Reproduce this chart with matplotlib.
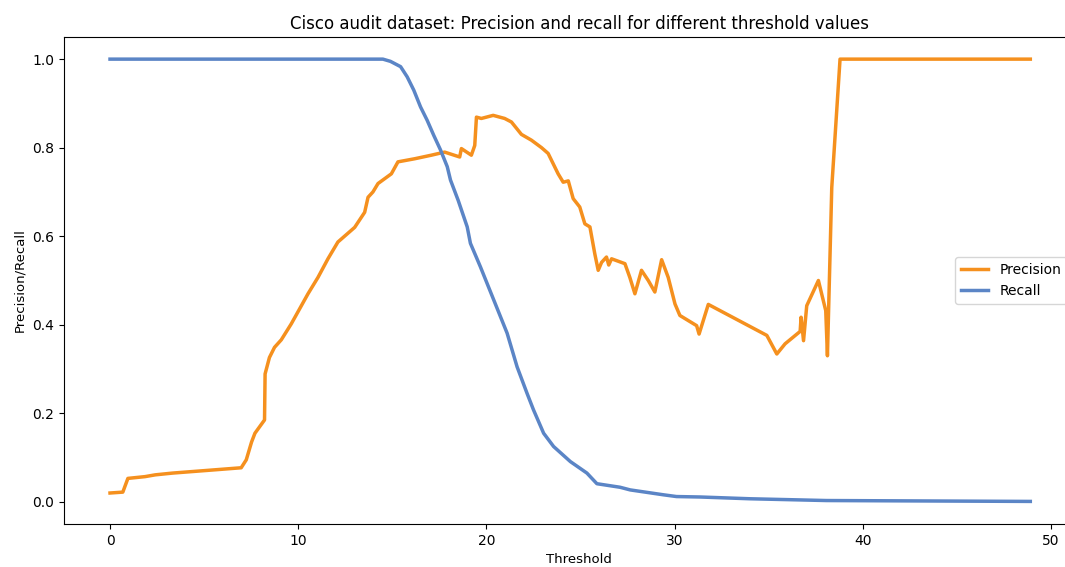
import matplotlib
matplotlib.use("Agg")
import matplotlib.pyplot as plt

# thresholds / recall
rec_x = [0, 14.5, 14.9, 15.44, 15.79, 16.14, 16.5, 16.85, 17.2, 17.56, 17.92, 18.09, 18.5,
         18.98, 19.15, 19.68, 20.39, 21.1, 21.63, 22.16, 22.5, 23.04, 23.57, 24.46, 25.34,
         25.87, 27.1, 27.64, 29.4, 30.1, 31.35, 34, 38.07, 48.9]
rec_y = [1.0, 1.0, 0.995, 0.983, 0.96, 0.93, 0.892, 0.862, 0.828, 0.795, 0.757, 0.727, 0.681,
         0.621, 0.584, 0.531, 0.456, 0.381, 0.305, 0.245, 0.208, 0.155, 0.125, 0.091, 0.065,
         0.041, 0.033, 0.027, 0.016, 0.012, 0.011, 0.007, 0.003, 0.001]

# thresholds / precision
prec_x = [0, 0.68, 0.95, 1.86, 2.4, 3.32, 5.15, 6.97, 7.24, 7.52, 7.7, 8.21, 8.24, 8.47, 8.74,
          9.1, 9.63, 10.52, 11.05, 11.58, 12.11, 13.0, 13.53, 13.71, 13.97, 14.24, 14.95, 15.3,
          16.19, 17.07, 17.78, 18.58, 18.67, 19.2, 19.38, 19.47, 19.73, 20.36, 20.97, 21.33,
          21.86, 22.39, 22.93, 23.28, 23.81, 24.08, 24.35, 24.61, 24.96, 25.23, 25.5, 25.76,
          25.94, 26.12, 26.38, 26.5, 26.65, 27.36, 27.62, 27.89, 28.24, 28.6, 28.95, 29.31,
          29.66, 30.02, 30.28, 31.17, 31.3, 31.79, 34.9, 35.43, 35.87, 36.67, 36.72, 36.85,
          37.02, 37.64, 38.03, 38.12, 38.35, 38.79, 48.9]
prec_y = [0.02, 0.022, 0.053, 0.057, 0.061, 0.065, 0.071, 0.077, 0.095, 0.135, 0.155, 0.185,
          0.289, 0.326, 0.349, 0.366, 0.402, 0.47, 0.507, 0.549, 0.587, 0.62, 0.654, 0.688,
          0.70, 0.719, 0.741, 0.768, 0.775, 0.783, 0.79, 0.779, 0.798, 0.783, 0.805, 0.869,
          0.866, 0.873, 0.866, 0.858, 0.83, 0.817, 0.80, 0.787, 0.741, 0.722, 0.725, 0.685,
          0.666, 0.628, 0.621, 0.56, 0.523, 0.541, 0.553, 0.535, 0.549, 0.538, 0.507, 0.47,
          0.523, 0.50, 0.474, 0.547, 0.507, 0.447, 0.421, 0.398, 0.379, 0.446, 0.376, 0.334,
          0.357, 0.385, 0.417, 0.364, 0.443, 0.50, 0.432, 0.33, 0.71, 1.0, 1.0]

fig = plt.figure(figsize=(10.65, 5.67), dpi=100)
# the original is cropped on the right, so the axes run past the edge
ax = fig.add_axes([64/1065, 43/567, 1030/1065, 487/567])

ax.plot(prec_x, prec_y, color="#f5901e", linewidth=2.5, label="Precision")
ax.plot(rec_x, rec_y, color="#5b85c6", linewidth=2.5, label="Recall")

ax.set_xlim(-2.445, -2.445 + 1030/18.82)
ax.set_ylim(-0.05, 1.05)
ax.spines["right"].set_visible(False)

ax.set_title("Cisco audit dataset: Precision and recall for different threshold values", fontsize=12)
ax.set_xlabel("Threshold", fontsize=9.5)
ax.set_ylabel("Precision/Recall", fontsize=9.5)
ax.legend(loc="center left", bbox_to_anchor=((955-64)/1030, 0.5), borderaxespad=0)

fig.savefig("out.png", dpi=100)
